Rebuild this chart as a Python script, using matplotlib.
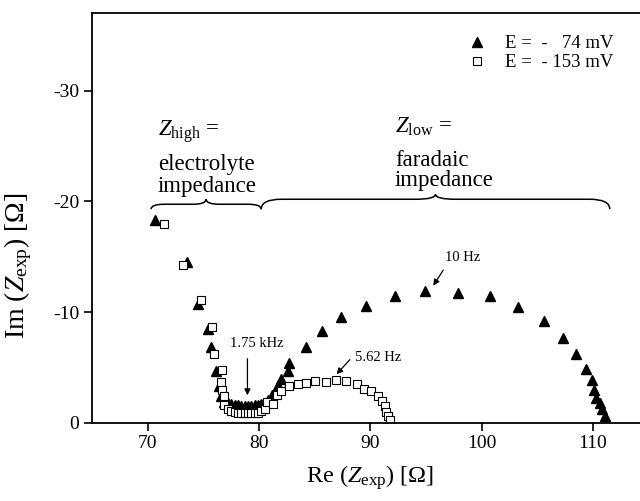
import numpy as np
import matplotlib
matplotlib.use('Agg')
import matplotlib.pyplot as plt
from matplotlib.path import Path
from matplotlib.patches import PathPatch

plt.rcParams['font.family'] = ['Liberation Serif', 'DejaVu Serif']
plt.rcParams['mathtext.fontset'] = 'custom'
plt.rcParams['mathtext.rm'] = 'Liberation Serif'
plt.rcParams['mathtext.it'] = 'Liberation Serif:italic'
plt.rcParams['axes.unicode_minus'] = False

# E = -74 mV (triangles)
re_74 = [70.7, 73.5, 74.5, 75.4, 75.7, 76.1, 76.4, 76.6, 76.9, 77.2, 77.5, 77.8,
         78.1, 78.4, 78.7, 79.0, 79.3, 79.6, 79.9, 80.2, 80.5, 80.8, 81.2, 81.7,
         82.0, 82.6, 82.7, 84.2, 85.7, 87.4, 89.6, 92.2, 94.9, 97.9, 100.7, 103.3,
         105.6, 107.3, 108.5, 109.4, 109.9, 110.1, 110.3, 110.6, 110.8, 111.1]
im_74 = [-18.3, -14.5, -10.7, -8.5, -6.9, -4.7, -3.3, -2.4, -1.9, -1.8, -1.7, -1.6,
         -1.6, -1.5, -1.5, -1.5, -1.5, -1.6, -1.6, -1.7, -1.8, -2.1, -2.5, -3.4,
         -4.0, -4.7, -5.4, -6.9, -8.3, -9.6, -10.6, -11.5, -11.9, -11.7, -11.5, -10.5,
         -9.2, -7.7, -6.2, -4.9, -3.9, -3.0, -2.3, -1.8, -1.3, -0.6]

# E = -153 mV (open squares)
re_153 = [71.5, 73.2, 74.8, 75.8, 76.0, 76.7, 76.6, 76.7, 76.9, 76.9, 77.2, 77.5,
          77.8, 78.1, 78.4, 78.7, 79.0, 79.3, 79.6, 79.9, 80.2, 80.5, 80.7, 81.3,
          81.6, 82.0, 82.7, 83.5, 84.2, 85.0, 86.0, 86.9, 87.8, 88.8, 89.4, 90.1,
          90.7, 91.0, 91.3, 91.4, 91.6, 91.75]
im_153 = [-18.0, -14.3, -11.1, -8.7, -6.2, -4.8, -3.7, -3.0, -2.4, -1.6, -1.3, -1.1,
          -1.0, -0.9, -0.9, -0.9, -0.9, -0.9, -0.9, -0.9, -1.1, -1.3, -1.9, -1.7,
          -2.5, -2.9, -3.3, -3.5, -3.6, -3.8, -3.7, -3.9, -3.8, -3.5, -3.1, -2.9,
          -2.4, -2.0, -1.5, -1.0, -0.6, -0.3]

labels = ['E =  -   74 mV', 'E =  - 153 mV']

# frequency markers: text, text pos, arrow tail, arrow tip
freq_text = ['1.75 kHz', '5.62 Hz', '10 Hz']
freq_text_xy = [(79.8, -7.2), (88.6, -5.9), (96.7, -14.9)]
freq_text_ha = ['center', 'left', 'left']
freq_tail = [(78.96, -5.8), (88.16, -5.72), (96.54, -13.8)]
freq_tip = [(78.96, -2.5), (86.96, -4.4), (95.65, -12.4)]

# region braces
brace_x0 = [70.3, 80.2]
brace_x1 = [80.2, 111.5]
brace_end = [-19.3, -19.3]
brace_flat = [-19.75, -20.2]
brace_tip = [-20.2, -20.65]
brace_curl = [1.2, 1.8]

region_x = [70.93, 92.2]
region_lines = [[r'$Z_{\mathrm{high}}$ =', 'electrolyte', 'impedance'],
                [r'$Z_{\mathrm{low}}$ =', 'faradaic', 'impedance']]
region_base = [[-25.9, -22.8, -20.85], [-26.2, -23.2, -21.4]]


def draw_brace(ax, x0, x1, ye, yf, yt, c):
    xm = (x0 + x1) / 2
    verts = [(x0, ye), (x0, yf), (x0 + c, yf), (xm - c, yf), (xm, yf), (xm, yt),
             (xm, yf), (xm + c, yf), (x1 - c, yf), (x1, yf), (x1, ye)]
    codes = [Path.MOVETO, Path.CURVE3, Path.CURVE3, Path.LINETO, Path.CURVE3,
             Path.CURVE3, Path.CURVE3, Path.CURVE3, Path.LINETO, Path.CURVE3,
             Path.CURVE3]
    ax.add_patch(PathPatch(Path(verts, codes), fc='none', ec='black', lw=1.1))


fig = plt.figure(figsize=(6.4, 5.01), dpi=100)
ax = fig.add_axes([0.1437, 0.1557, 0.87, 0.818])

ax.plot(re_74, im_74, linestyle='none', marker='^', ms=7.2, color='black',
        label=labels[0])
ax.plot(re_153, im_153, linestyle='none', marker='s', ms=5.6, mfc='white',
        mec='black', mew=0.8, label=labels[1])

for i in range(len(freq_text)):
    ax.annotate('', xy=freq_tip[i], xytext=freq_tail[i],
                arrowprops=dict(arrowstyle='-|>', color='black', lw=0.9,
                                mutation_scale=9, shrinkA=0, shrinkB=0))
    ax.text(freq_text_xy[i][0], freq_text_xy[i][1], freq_text[i], fontsize=10.5,
            ha=freq_text_ha[i], va='center')

for i in range(2):
    draw_brace(ax, brace_x0[i], brace_x1[i], brace_end[i], brace_flat[i],
               brace_tip[i], brace_curl[i])
    for line, yb in zip(region_lines[i], region_base[i]):
        ax.text(region_x[i], yb, line, fontsize=16.5, ha='left', va='baseline')

ax.legend(loc='upper left', bbox_to_anchor=(98.7, -35.0),
          bbox_transform=ax.transData, frameon=False, fontsize=13.5,
          handlelength=1.0, handletextpad=1.0, labelspacing=0.1,
          borderpad=0, borderaxespad=0)

ax.set_xlim(65, 115)
ax.set_ylim(0, -37)
ax.set_xticks([70, 80, 90, 100, 110])
ax.set_yticks([0, -10, -20, -30])
ax.tick_params(direction='out', length=6, width=1.2, labelsize=14, pad=3)
for s in ax.spines.values():
    s.set_linewidth(1.3)

ax.set_xlabel(r'Re ($Z_{\mathrm{exp}}$) [Ω]', fontsize=17.5, labelpad=8)
ax.set_ylabel(r'Im ($Z_{\mathrm{exp}}$) [Ω]', fontsize=20)
ax.yaxis.set_label_coords(-0.105, 0.383)

fig.savefig('out.png', dpi=100)
